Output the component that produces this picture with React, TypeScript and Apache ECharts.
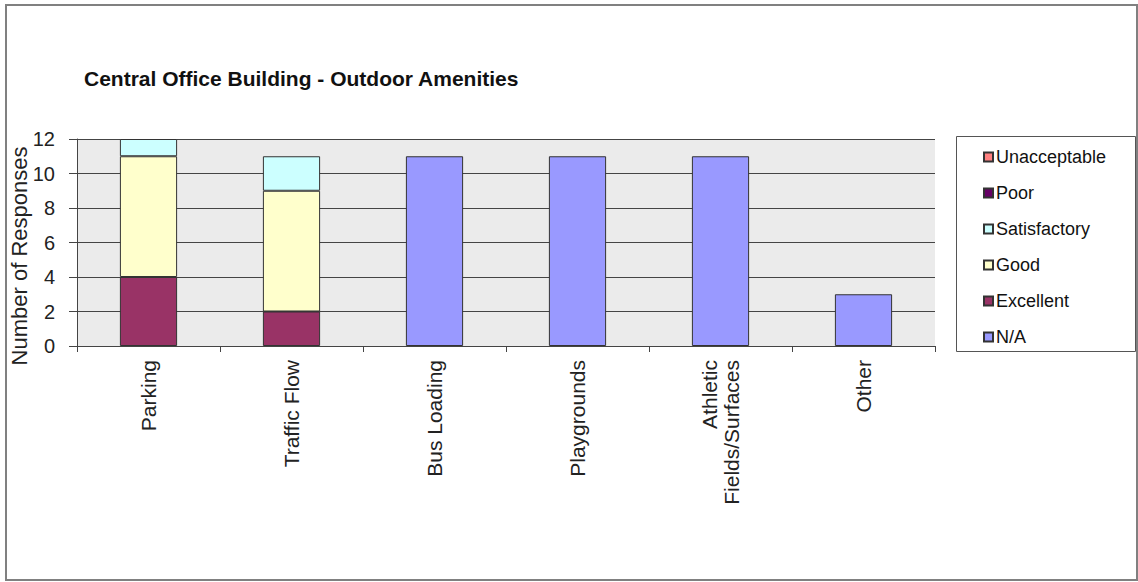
import React, { useEffect, useRef } from "react";
import * as echarts from "echarts";

const categories = ["Parking", "Traffic Flow", "Bus Loading", "Playgrounds", "Athletic\nFields/Surfaces", "Other"];
const excellent = [4, 2, null, null, null, null];
const good = [7, 7, null, null, null, null];
const satisfactory = [1, 2, null, null, null, null];
const poor = [null, null, null, null, null, null];
const unacceptable = [null, null, null, null, null, null];
const notApplicable = [null, null, 11, 11, 11, 3];
const yTicks = { min: 0, max: 12, interval: 2 };

const FONT = "'Liberation Sans', Arial, sans-serif";

export default function App() {
  const ref = useRef<HTMLDivElement>(null);
  useEffect(() => {
    document.body.style.margin = "0";
    const chart = echarts.init(ref.current!, undefined, { renderer: "svg" });
    const barBase = {
      type: "bar" as const,
      stack: "total",
      barWidth: "40%",
      itemStyle: { borderColor: "#333333", borderWidth: 1 },
    };
    chart.setOption({
      animation: false,
      backgroundColor: "#ffffff",
      textStyle: { fontFamily: FONT },
      title: {
        text: "Central Office Building - Outdoor Amenities",
        left: 79,
        top: 63,
        textStyle: { fontFamily: FONT, fontSize: 21, fontWeight: "bold", color: "#111" },
      },
      grid: { left: 77, right: 203, top: 139, bottom: 236, show: true, backgroundColor: "#ebebeb", borderWidth: 0 },
      legend: {
        orient: "vertical",
        left: 978,
        top: 143,
        itemWidth: 9,
        itemHeight: 9,
        itemGap: 18,
        icon: "rect",
        textStyle: { fontFamily: FONT, fontSize: 18, color: "#111", lineHeight: 18, padding: [0, 0, 0, -2] },
        data: ["Unacceptable", "Poor", "Satisfactory", "Good", "Excellent", "N/A"],
      },
      xAxis: {
        type: "category",
        data: categories,
        axisLine: { lineStyle: { color: "#444", width: 1 } },
        axisTick: { show: true, length: 6, lineStyle: { color: "#444" } },
        axisLabel: { rotate: 90, margin: 14, fontSize: 21, color: "#222", fontFamily: FONT, lineHeight: 22 },
      },
      yAxis: {
        type: "value",
        min: yTicks.min,
        max: yTicks.max,
        interval: yTicks.interval,
        axisLine: { show: true, lineStyle: { color: "#444", width: 1 } },
        axisTick: { show: true, length: 8, lineStyle: { color: "#444" } },
        axisLabel: { margin: 22, fontSize: 20, color: "#222", fontFamily: FONT },
        splitLine: { show: true, lineStyle: { color: "#444", width: 1 } },
      },
      graphic: [
        { type: "rect", shape: { x: 6, y: 5, width: 1131, height: 575 }, style: { fill: "none", stroke: "#808080", lineWidth: 2 }, silent: true },
        { type: "rect", shape: { x: 956.5, y: 136.5, width: 179, height: 215 }, style: { fill: "none", stroke: "#555", lineWidth: 1 }, silent: true },
        {
          type: "text",
          x: 19,
          y: 256,
          rotation: Math.PI / 2,
          style: { text: "Number of Responses", fontFamily: FONT, fontSize: 22, fill: "#222", align: "center", verticalAlign: "middle" },
          silent: true,
        },
      ],
      series: [
        { ...barBase, name: "Excellent", data: excellent, itemStyle: { ...barBase.itemStyle, color: "#993366" } },
        { ...barBase, name: "Good", data: good, itemStyle: { ...barBase.itemStyle, color: "#ffffcc" } },
        { ...barBase, name: "Satisfactory", data: satisfactory, itemStyle: { ...barBase.itemStyle, color: "#ccffff" } },
        { ...barBase, name: "Poor", data: poor, itemStyle: { ...barBase.itemStyle, color: "#660066" } },
        { ...barBase, name: "Unacceptable", data: unacceptable, itemStyle: { ...barBase.itemStyle, color: "#ff8080" } },
        { ...barBase, name: "N/A", data: notApplicable, itemStyle: { ...barBase.itemStyle, color: "#9999ff" } },
      ],
    });
    return () => chart.dispose();
  }, []);
  return <div ref={ref} style={{ width: 1138, height: 582 }} />;
}
